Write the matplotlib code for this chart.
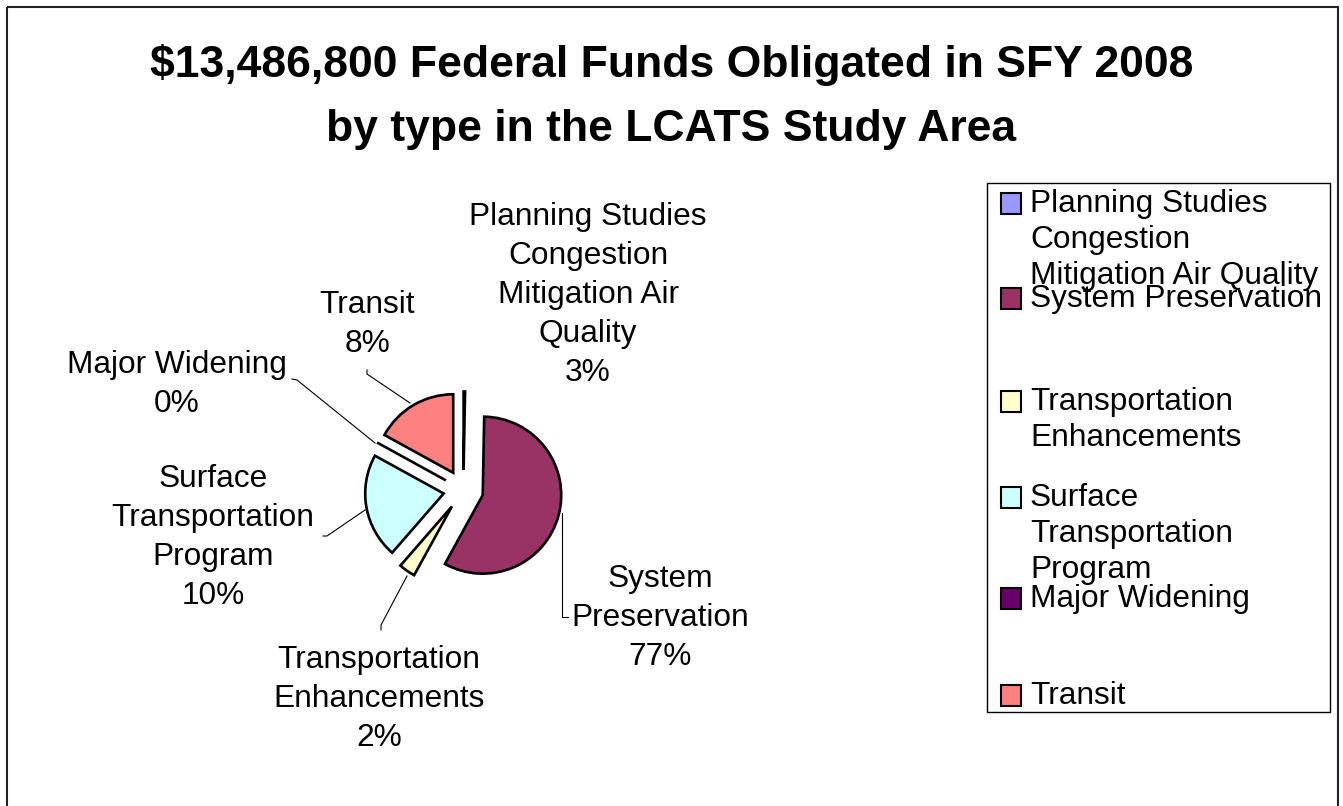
import matplotlib
matplotlib.use("Agg")
import matplotlib.pyplot as plt
from matplotlib.patches import Rectangle

plt.rcParams["font.family"] = ["Liberation Sans", "DejaVu Sans"]

# slice shares as drawn in the picture (%), and the percentages printed on the labels
categories = [
    "Planning Studies Congestion Mitigation Air Quality",
    "System Preservation",
    "Transportation Enhancements",
    "Surface Transportation Program",
    "Major Widening",
    "Transit",
]
drawn_share = [0.3, 57.7, 3.4, 21.6, 0.0, 17.0]
label_pct = [3, 77, 2, 10, 0, 8]
colors = ["#9999FF", "#993366", "#FFFFCC", "#CCFFFF", "#660066", "#FF8080"]

pie_label_lines = [
    ["Planning Studies", "Congestion", "Mitigation Air", "Quality"],
    ["System", "Preservation"],
    ["Transportation", "Enhancements"],
    ["Surface", "Transportation", "Program"],
    ["Major Widening"],
    ["Transit"],
]
legend_lines = [
    ["Planning Studies", "Congestion", "Mitigation Air Quality"],
    ["System Preservation"],
    ["Transportation", "Enhancements"],
    ["Surface", "Transportation", "Program"],
    ["Major Widening"],
    ["Transit"],
]
title_lines = [
    "$13,486,800 Federal Funds Obligated in SFY 2008",
    "by type in the LCATS Study Area",
]

W, H = 1343, 806
fig = plt.figure(figsize=(W / 100, H / 100), dpi=100)
ax = fig.add_axes([0, 0, 1, 1])

# pie in pixel coordinates (y pointing down)
pie_center = (463.4, 490.0)
pie_radius = 78.5
wedges, _ = ax.pie(
    drawn_share,
    colors=colors,
    explode=[20] * len(drawn_share),
    center=pie_center,
    radius=pie_radius,
    startangle=-90,
    counterclock=True,
    frame=True,
    wedgeprops=dict(edgecolor="black", linewidth=1.9),
)
ax.set_xlim(0, W)
ax.set_ylim(H, 0)
ax.set_aspect("auto")
ax.axis("off")

# outer frame
ax.add_patch(Rectangle((7, 7), 1331, 820, fill=False, edgecolor="#222222", lw=1.5, clip_on=False))

# title
for text, yb in zip(title_lines, [77, 141]):
    ax.text(W / 2, yb, text, ha="center", va="baseline", fontsize=32, fontweight="bold")

# pie labels
label_pos = [(588, 225), (660, 587), (379, 668), (213, 487), (177, 373), (367, 313)]
line_step = 39
for lines, pct, (lx, ly) in zip(pie_label_lines, label_pct, label_pos):
    for j, s in enumerate(lines + [f"{pct}%"]):
        ax.text(lx, ly + j * line_step, s, ha="center", va="baseline", fontsize=22.8)

# leader lines
leaders = [
    [(562, 513), (562, 617), (568, 617)],
    [(381, 630), (381, 625), (407, 576)],
    [(323, 536), (327, 536), (365, 510)],
    [(292, 379), (297, 380), (375, 443)],
    [(367, 370), (367, 374), (410, 403)],
]
for pts in leaders:
    xs, ys = zip(*pts)
    ax.plot(xs, ys, color="black", lw=0.8)

# legend
ax.add_patch(Rectangle((987, 183), 343, 529, fill=False, edgecolor="black", lw=1.0))
leg_base = [211.7, 307, 410, 506, 607, 704]
for lines, col, yb in zip(legend_lines, colors, leg_base):
    ax.add_patch(Rectangle((1001, yb - 19), 20, 21, facecolor=col, edgecolor="black", lw=1.5))
    for j, s in enumerate(lines):
        ax.text(1030, yb + j * 36, s, ha="left", va="baseline", fontsize=22.8)

fig.savefig("out.png", dpi=100)
